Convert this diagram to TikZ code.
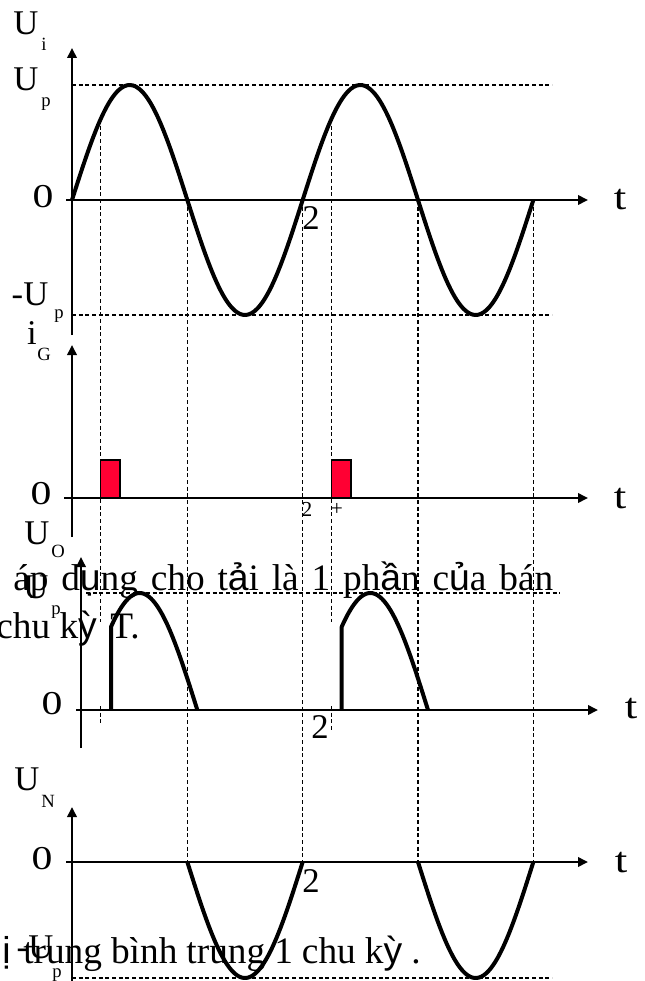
\documentclass[tikz,border=0pt]{standalone}
\usepackage{fontspec}
\setmainfont{Liberation Serif}
\newfontfamily\vnsans{Liberation Sans}
\usetikzlibrary{arrows.meta}
\definecolor{pulsered}{RGB}{255,0,51}
\newcommand\vsx[1]{{\vnsans #1}}
\begin{document}
\begin{tikzpicture}[x=0.75pt,y=-0.75pt,
  axisline/.style={line width=2.2pt,-{Triangle[length=7.5pt,width=7pt]}},
  wave/.style={line width=3pt,line join=round},
  guide/.style={line width=1pt,dash pattern=on 3pt off 2pt},
  pulse/.style={fill=pulsered,draw=black,line width=1pt},
  lbl/.style={inner sep=0pt,font=\fontsize{26}{26}\selectfont},
  zero/.style={inner sep=0pt,font=\fontsize{25}{25}\selectfont,xscale=1.25},
  tlbl/.style={inner sep=0pt,font=\fontsize{27}{27}\selectfont,xscale=1.25},
  sub/.style={inner sep=0pt,font=\fontsize{14}{14}\selectfont},
  two/.style={inner sep=0pt,font=\fontsize{26}{26}\selectfont},
  small/.style={inner sep=0pt,font=\fontsize{16}{16}\selectfont},
  body/.style={inner sep=0pt,anchor=base west,font=\fontsize{28}{30}\selectfont}]
\useasboundingbox (0,0) rectangle (645,981);

% ---------- guide lines ----------
\draw[guide] (72,85) -- (552,85);
\draw[guide] (72,315) -- (552,315);
\draw[guide] (86,593) -- (560,593);
\draw[guide] (72,978) -- (552,978);

\draw[guide] (100.7,119) -- (100.7,622);
\draw[guide] (100.7,706) -- (100.7,724);
\draw[guide] (331.3,119) -- (331.3,622);
\draw[guide] (331.3,706) -- (331.3,732);
\draw[guide] (187.3,200) -- (187.3,862);
\draw[guide] (302.7,200) -- (302.7,862);
\draw[guide] (418,200) -- (418,862);
\draw[guide] (533.3,200) -- (533.3,862);

% ---------- axes ----------
\draw[axisline] (72,335) -- (72,48);
\draw[axisline] (66,200) -- (588,200);
\draw[axisline] (72,537) -- (72,345);
\draw[axisline] (64,498) -- (588,498);
\draw[axisline,line width=1.8pt] (81,748) -- (81,557);
\draw[axisline] (76,710) -- (598,710);
\draw[axisline] (72,990) -- (72,807);
\draw[axisline] (66,862) -- (588,862);

% ---------- waveforms ----------
\draw[wave] plot[domain=72:533.3,samples=160,smooth] (\x,{200-115*sin((\x-72)/230.67*360)});
\draw[wave] (111,710) -- plot[domain=111:197.3,samples=40,smooth] (\x,{710-117*sin((\x-82)/230.67*360)});
\draw[wave] (341.7,710) -- plot[domain=341.7:428,samples=40,smooth] (\x,{710-117*sin((\x-312.67)/230.67*360)});
\draw[wave] plot[domain=187.3:302.7,samples=50,smooth] (\x,{862-116*sin((\x-72)/230.67*360)});
\draw[wave] plot[domain=418:533.3,samples=50,smooth] (\x,{862-116*sin((\x-72)/230.67*360)});

\draw[pulse] (100.7,460) rectangle (120,498);
\draw[pulse] (331.3,460) rectangle (351,498);

% ---------- labels: U_i panel ----------
\node[lbl] (ui) at (26,23) {U};
\node[sub] (uisub) at (44,44) {i};
\node[lbl] (up1) at (26,79) {U};
\node[sub] (up1sub) at (46,104) {p};
\node[zero] (zero1) at (43,197) {0};
\node[lbl] (mup1) at (30,294) {-U};
\node[sub] (mup1sub) at (59,316) {p};
\node[two] (two1) at (311,218) {2};
\node[tlbl] (t1) at (620,200) {t};

% ---------- labels: i_G panel ----------
\node[lbl] (ig) at (32,333) {i};
\node[sub] (igsub) at (44,354) {G};
\node[zero] (zero2) at (41,494) {0};
\node[small] (two2) at (307,509) {2};
\node[small] (plus2) at (337,509) {+};
\node[tlbl] (t2) at (620,499) {t};

% ---------- labels: U_O panel ----------
\node[lbl] (uo) at (37,533) {U};
\node[sub] (uosub) at (58,551) {O};
\node[lbl] (up3) at (36,587) {U};
\node[sub] (up3sub) at (56,612) {p};
\node[zero] (zero3) at (52,704) {0};
\node[two] (two3) at (320,727) {2};
\node[tlbl] (t3) at (631,709) {t};

% ---------- labels: U_N panel ----------
\node[lbl] (un) at (27,779) {U};
\node[sub] (unsub) at (48,801) {N};
\node[zero] (zero4) at (42,859) {0};
\node[two] (two4) at (311,881) {2};
\node[tlbl] (t4) at (621,863) {t};
\node[lbl] (mup4) at (35,947) {-U};
\node[sub] (mup4sub) at (57,975) {p};

% ---------- overlapping text ----------
\node[body] (line1) at (13,590) {\makebox[405pt][s]{áp d\vsx{ụ}ng cho t\vsx{ả}i là 1 ph\vsx{ầ}n c\vsx{ủ}a bán}};
\node[body] (line2a) at (-4,638) {chu k\vsx{ỳ}};
\node[body] (line2b) at (110,638) {T.};
\node[body] (line3a) at (2,963) {\vsx{ị}};
\node[body] (line3b) at (23,963) {\makebox[298pt][s]{trung bình trung 1 chu k\vsx{ỳ} .}};
\end{tikzpicture}
\end{document}
